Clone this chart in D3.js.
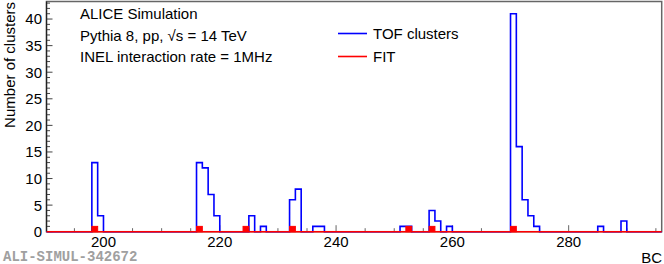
<!DOCTYPE html>
<html lang="en">
<head>
  <meta charset="utf-8"/>
  <title>TOF clusters vs BC</title>
  <script src="https://cdn.jsdelivr.net/npm/d3@7"></script>
  <style>
    body { margin: 0; background: #fff; }
    svg { display: block; font-family: "Liberation Sans", Arial, sans-serif; }
    .lbl { font-size: 15px; fill: #000; }
  </style>
</head>
<body>
<svg width="664" height="264"></svg>
<script>
  // histogram content (bin = BC number, bin width 1)
  var tofBins   = [198, 199, 216, 217, 218, 219, 225, 227, 232, 233, 236, 237, 251, 252, 256, 257, 259, 270, 271, 272, 273, 274, 285, 289];
  var tofCounts = [13,   3,  13,  12,   7,   3,   3,   1,   6,   8,   1,   1,   1,   1,   4,   2,   1,  41,  16,   6,   3,   1,   1,   2];
  var fitBins   = [198, 216, 224, 232, 252, 256, 270];
  var fitCount  = 1;
  var xMajor = [200, 220, 240, 260, 280];
  var yMajor = [0, 5, 10, 15, 20, 25, 30, 35, 40];
  var infoText = ["ALICE Simulation", "Pythia 8, pp, \u221As = 14 TeV", "INEL interaction rate = 1MHz"];
  var legendItems = [{name: "TOF clusters", color: "#0000ff"}, {name: "FIT", color: "#ff0000"}];

  var svg = d3.select("svg");
  var mLeft = 46.5, mRight = 661.7, mTop = 1.5, mBottom = 231.7;

  var x = d3.scaleLinear().domain([190.2, 296]).range([mLeft, mRight]);
  var y = d3.scaleLinear().domain([0, 43.3]).range([mBottom, mTop]);

  // full histogram arrays
  var tofHist = d3.range(190, 296).map(function(b) {
    var i = tofBins.indexOf(b);
    return {bc: b, v: i < 0 ? 0 : tofCounts[i]};
  });

  function stepPath(data) {
    var p = "M" + mLeft + "," + y(0);
    data.forEach(function(d) {
      var x0 = Math.max(x(d.bc), mLeft), x1 = Math.min(x(d.bc + 1), mRight);
      p += "L" + x0 + "," + y(d.v) + "L" + x1 + "," + y(d.v);
    });
    p += "L" + mRight + "," + y(0);
    return p;
  }

  // frame
  svg.append("rect")
    .attr("x", mLeft).attr("y", mTop)
    .attr("width", mRight - mLeft).attr("height", mBottom - mTop)
    .attr("fill", "none").attr("stroke", "#666").attr("stroke-width", 1.5);

  // x ticks (inside, pointing up)
  var xMinor = d3.range(195, 296, 5);
  svg.append("g").selectAll("line").data(xMinor).enter().append("line")
    .attr("x1", function(d) { return x(d); }).attr("x2", function(d) { return x(d); })
    .attr("y1", mBottom).attr("y2", function(d) { return mBottom - (xMajor.indexOf(d) >= 0 ? 6.5 : 3.5); })
    .attr("stroke", "#666").attr("stroke-width", 1);
  svg.append("g").selectAll("text").data(xMajor).enter().append("text")
    .attr("class", "lbl")
    .attr("x", function(d) { return x(d); }).attr("y", 247)
    .attr("text-anchor", "middle")
    .text(function(d) { return d; });

  // y ticks
  var yMinor = d3.range(0, 44, 1);
  svg.append("g").selectAll("line").data(yMinor).enter().append("line")
    .attr("x1", mLeft).attr("x2", function(d) { return mLeft + (d % 5 === 0 ? 6 : 3.5); })
    .attr("y1", function(d) { return y(d); }).attr("y2", function(d) { return y(d); })
    .attr("stroke", "#444").attr("stroke-width", 1);
  svg.append("g").selectAll("text").data(yMajor).enter().append("text")
    .attr("class", "lbl")
    .attr("x", 42).attr("y", function(d) { return y(d); })
    .attr("dy", "0.36em")
    .attr("text-anchor", "end")
    .text(function(d) { return d; });

  svg.append("line").attr("x1", mLeft).attr("x2", mLeft).attr("y1", mTop).attr("y2", mBottom)
    .attr("stroke", "#222").attr("stroke-width", 1.2);

  // TOF clusters histogram
  svg.append("path")
    .attr("d", stepPath(tofHist))
    .attr("fill", "none").attr("stroke", "#0000ff").attr("stroke-width", 1.6);

  // FIT: zero line + filled bins
  svg.append("line")
    .attr("x1", mLeft).attr("x2", mRight).attr("y1", y(0)).attr("y2", y(0))
    .attr("stroke", "#ff0000").attr("stroke-width", 1.6);
  svg.append("g").selectAll("rect").data(fitBins).enter().append("rect")
    .attr("x", function(d) { return x(d); })
    .attr("width", function(d) { return x(d + 1) - x(d); })
    .attr("y", y(fitCount))
    .attr("height", y(0) - y(fitCount))
    .attr("fill", "#ff0000")
    .attr("stroke", "#ff0000").attr("stroke-width", 1);

  // axis titles
  svg.append("text").attr("class", "lbl")
    .attr("transform", "translate(15,2) rotate(-90)")
    .attr("text-anchor", "end")
    .text("Number of clusters");
  svg.append("text").attr("class", "lbl")
    .attr("x", 662).attr("y", 262.5).attr("text-anchor", "end")
    .text("BC");

  // info text
  svg.append("g").selectAll("text").data(infoText).enter().append("text")
    .attr("class", "lbl")
    .attr("x", 80).attr("y", function(d, i) { return 19 + i * 21.7; })
    .text(function(d) { return d; });

  // legend
  var leg = svg.append("g").selectAll("g").data(legendItems).enter().append("g")
    .attr("transform", function(d, i) { return "translate(0," + (33.5 + i * 23) + ")"; });
  leg.append("line").attr("x1", 338).attr("x2", 367).attr("y1", 0).attr("y2", 0)
    .attr("stroke", function(d) { return d.color; }).attr("stroke-width", 1.6);
  leg.append("text").attr("class", "lbl")
    .attr("x", 373).attr("dy", "0.36em")
    .text(function(d) { return d.name; });

  // watermark
  svg.append("text")
    .attr("x", 3).attr("y", 260.5)
    .attr("font-family", "'Liberation Mono', 'DejaVu Sans Mono', monospace")
    .attr("font-weight", "bold").attr("font-size", 14)
    .attr("fill", "#a0a0a0")
    .text("ALI-SIMUL-342672");
</script>
</body>
</html>
